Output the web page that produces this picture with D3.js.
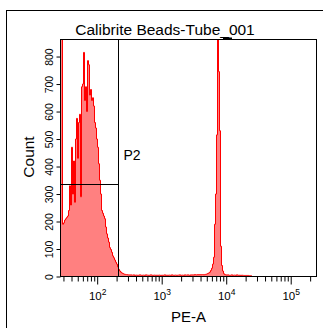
<!DOCTYPE html>
<html>
<head>
<meta charset="utf-8">
<script src="https://cdn.jsdelivr.net/npm/d3@7"></script>
<style>
  body { margin: 0; background: #fff; }
  text { font-family: "Liberation Sans", Arial, sans-serif; fill: #000; }
</style>
</head>
<body>
<div id="chart"></div>
<script>
'use strict';

// histogram of PE-A, 256 log channels
const title = 'Calibrite Beads-Tube_001';
const xLabel = 'PE-A';
const yLabel = 'Count';
const gateName = 'P2';

const xDomain = [27, 251000];
const yMax = 862;
const yTicks = [0, 100, 200, 300, 400, 500, 600, 700, 800];
const xMajor = [100, 1000, 10000, 100000];
const xMajorExp = ['2', '3', '4', '5'];
const xMinor = [30, 40, 50, 60, 70, 80, 90,
  200, 300, 400, 500, 600, 700, 800, 900,
  2000, 3000, 4000, 5000, 6000, 7000, 8000, 9000,
  20000, 30000, 40000, 50000, 60000, 70000, 80000, 90000,
  200000];

// gate P2: PE-A from axis min to ~210, drawn at count 335
const gateMax = 208;
const gateLevel = 335;

const counts = [
  3000, 3000, 190, 195, 205, 210, 215, 220, 240, 330,
  260, 470, 300, 420, 270, 500, 575, 430, 560, 590,
  290, 690, 700, 815, 640, 690, 600, 785, 770, 660,
  680, 640, 650, 620, 560, 540, 500, 470, 410, 350,
  300, 240, 230, 220, 210, 180, 155, 140, 125, 105,
  98, 88, 75, 68, 60, 52, 45, 35, 26, 20,
  16, 13, 11, 9, 8, 7, 7, 6, 6, 5,
  6, 5, 5, 6, 4, 5, 5, 4, 5, 6,
  5, 4, 5, 5, 4, 6, 5, 5, 4, 5,
  6, 5, 4, 5, 5, 4, 5, 4, 5, 5,
  3, 5, 4, 5, 6, 4, 5, 4, 5, 5,
  4, 6, 5, 4, 5, 5, 4, 5, 5, 6,
  4, 5, 5, 4, 6, 5, 5, 6, 5, 4,
  6, 5, 6, 5, 7, 6, 6, 7, 6, 7,
  6, 7, 7, 6, 7, 8, 9, 11, 13, 16,
  22, 30, 45, 70, 190, 300, 515, 3000, 745, 530,
  110, 40, 20, 10, 7, 6, 5, 6, 5, 4,
  5, 6, 4, 5, 5, 4, 6, 5, 4, 5,
  3, 5, 4, 4, 3, 4, 3, 4, 3, 2,
  3, 0, 0, 0, 0, 0, 0, 0, 0, 0,
  0, 0, 0, 0, 0, 0, 0, 0, 0, 0,
  0, 0, 0, 0, 0, 0, 0, 0, 0, 0,
  0, 0, 0, 0, 0, 0, 0, 0, 0, 0,
  0, 0, 0, 0, 0, 0, 0, 0, 0, 0,
  0, 0, 0, 0, 0, 0, 0, 0, 0, 0,
  0, 0, 0, 0, 0, 0
];

drawChart('#chart');

function drawChart(el) {
  const width = 323;
  const height = 328;
  const left = 60.5;
  const right = 316.5;
  const top = 39.5;
  const bottom = 276.5;

  const svg = d3.select(el)
    .append('svg')
    .attr('width', width)
    .attr('height', height);

  // outer panel border
  svg.append('rect')
    .attr('x', 6.5)
    .attr('y', 10.5)
    .attr('width', 340)
    .attr('height', 340)
    .attr('fill', 'none')
    .attr('stroke', '#000');

  const scaleX = d3.scaleLog()
    .domain(xDomain)
    .range([left, right]);

  const scaleY = d3.scaleLinear()
    .domain([0, yMax])
    .range([bottom, top]);

  // channel edges
  const n = counts.length;
  const lo = Math.log10(xDomain[0]);
  const hi = Math.log10(xDomain[1]);
  const bins = counts.map((c, i) => ({
    x0: Math.pow(10, lo + (hi - lo) * i / n),
    count: c
  }));
  bins.push({ x0: xDomain[1], count: 0 });

  svg.append('clipPath')
    .attr('id', 'plotclip')
    .append('rect')
    .attr('x', left)
    .attr('y', top)
    .attr('width', right - left)
    .attr('height', bottom - top);

  const area = d3.area()
    .curve(d3.curveStepAfter)
    .x(d => scaleX(d.x0))
    .y0(scaleY(0))
    .y1(d => scaleY(Math.min(d.count, yMax * 1.2)));

  const g = svg.append('g').attr('clip-path', 'url(#plotclip)');
  g.append('path')
    .datum(bins)
    .attr('d', area)
    .attr('fill', '#ff8080')
    .attr('stroke', 'none');
  g.append('path')
    .datum(bins)
    .attr('d', area.lineY1())
    .attr('fill', 'none')
    .attr('stroke', '#ff0000')
    .attr('stroke-width', 1);

  // gate P2
  const gx = Math.round(scaleX(gateMax)) + 0.5;
  const gy = Math.round(scaleY(gateLevel)) + 0.5;
  svg.append('line')
    .attr('x1', gx).attr('x2', gx)
    .attr('y1', top).attr('y2', bottom)
    .attr('stroke', '#000');
  svg.append('line')
    .attr('x1', left).attr('x2', gx)
    .attr('y1', gy).attr('y2', gy)
    .attr('stroke', '#000');
  svg.append('text')
    .attr('x', gx + 5)
    .attr('y', scaleY(422))
    .attr('font-size', 14)
    .text(gateName);

  // y axis
  const yAxis = d3.axisLeft(scaleY)
    .tickValues(yTicks)
    .tickSize(4)
    .tickFormat(d3.format('d'));
  const ya = svg.append('g')
    .attr('transform', `translate(${left},0)`)
    .call(yAxis);
  ya.select('.domain').remove();
  ya.selectAll('line').attr('stroke', '#000');
  ya.selectAll('text')
    .attr('x', null)
    .attr('dy', null)
    .attr('text-anchor', 'middle')
    .attr('font-size', 10.5)
    .attr('font-family', null)
    .attr('transform', 'translate(-8,0) rotate(-90)');

  // x axis: minor then major ticks
  const xMinorAxis = d3.axisBottom(scaleX)
    .tickValues(xMinor)
    .tickSize(5)
    .tickFormat('');
  const xm = svg.append('g')
    .attr('transform', `translate(0,${bottom})`)
    .call(xMinorAxis);
  xm.select('.domain').remove();
  xm.selectAll('line').attr('stroke', '#000');

  const xMajorAxis = d3.axisBottom(scaleX)
    .tickValues(xMajor)
    .tickSize(8)
    .tickFormat('');
  const xa = svg.append('g')
    .attr('transform', `translate(0,${bottom})`)
    .call(xMajorAxis);
  xa.select('.domain').remove();
  xa.selectAll('line').attr('stroke', '#000');
  xa.selectAll('.tick').each(function (d, i) {
    const t = d3.select(this).append('text')
      .attr('y', 23)
      .attr('text-anchor', 'middle')
      .attr('font-size', 11.5)
      .attr('fill', '#000');
    t.append('tspan').text('10');
    t.append('tspan')
      .attr('dy', -5)
      .attr('font-size', 8.5)
      .text(xMajorExp[i]);
  });

  // plot frame on top
  svg.append('rect')
    .attr('x', left)
    .attr('y', top)
    .attr('width', right - left)
    .attr('height', bottom - top)
    .attr('fill', 'none')
    .attr('stroke', '#000');

  // off-scale marker above the frame
  svg.append('rect')
    .attr('x', 223)
    .attr('y', 37.5)
    .attr('width', 9)
    .attr('height', 2)
    .attr('fill', '#000');

  svg.append('text')
    .attr('x', 165)
    .attr('y', 35)
    .attr('text-anchor', 'middle')
    .attr('font-size', 15.5)
    .text(title);

  svg.append('text')
    .attr('x', 188.5)
    .attr('y', 322)
    .attr('text-anchor', 'middle')
    .attr('font-size', 15)
    .text(xLabel);

  svg.append('text')
    .attr('transform', `translate(34,157) rotate(-90)`)
    .attr('text-anchor', 'middle')
    .attr('font-size', 15.5)
    .text(yLabel);
}
</script>
</body>
</html>
